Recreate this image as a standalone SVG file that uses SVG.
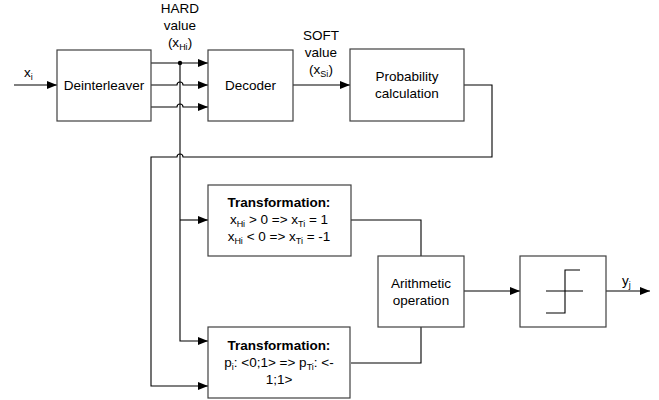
<svg xmlns="http://www.w3.org/2000/svg" width="659" height="400" viewBox="0 0 659 400">
<defs>
<marker id="ah" markerWidth="10" markerHeight="8" refX="10" refY="4" orient="auto" markerUnits="userSpaceOnUse"><path d="M0,0 L10,4 L0,8 z" fill="#000"/></marker>
<style>
.box{fill:#fff;stroke:#404040;stroke-width:1.2}
.ln{fill:none;stroke:#000;stroke-width:1.1}
text{font-family:"Liberation Sans",Arial,sans-serif;font-size:13.5px;fill:#000}
.c{text-anchor:middle}
.b{font-weight:bold}
.s{font-size:9px}
</style>
</defs>
<rect width="659" height="400" fill="#fff"/>
<g id="connectors">
<path class="ln" d="M14,85 H57" marker-end="url(#ah)"/>
<path class="ln" d="M151,63 H208" marker-end="url(#ah)"/>
<path class="ln" d="M151,85 H177 a3,3 0 0 1 6,0 H208" marker-end="url(#ah)"/>
<path class="ln" d="M151,107 H177 a3,3 0 0 1 6,0 H208" marker-end="url(#ah)"/>
<circle cx="180" cy="63" r="2.2" fill="#000"/>
<path class="ln" d="M180,63 V341 H208" marker-end="url(#ah)"/>
<path class="ln" d="M180,220 H208" marker-end="url(#ah)"/>
<path class="ln" d="M293,85 H350" marker-end="url(#ah)"/>
<path class="ln" d="M464,85 H492 V157 H183 a3,3 0 0 0 -6,0 H151 V386 H208" marker-end="url(#ah)"/>
<path class="ln" d="M351,220 H421 V256"/>
<path class="ln" d="M421,327 V363 H351"/>
<path class="ln" d="M464,291 H520" marker-end="url(#ah)"/>
<path class="ln" d="M606,291 H650" marker-end="url(#ah)"/>
</g>
<g id="labels">
<text x="24" y="77">x<tspan class="s" dy="3">i</tspan></text>
<text class="c" x="180" y="13">HARD</text>
<text class="c" x="180" y="30">value</text>
<text class="c" x="180" y="47">(x<tspan class="s" dy="3">Hi</tspan><tspan dy="-3">)</tspan></text>
<text class="c" x="321" y="40">SOFT</text>
<text class="c" x="321" y="57">value</text>
<text class="c" x="321" y="74">(x<tspan class="s" dy="3">Si</tspan><tspan dy="-3">)</tspan></text>
<text x="622" y="285">y<tspan class="s" dy="3">j</tspan></text>
</g>
<g id="deinterleaver"><rect class="box" x="57" y="50" width="94" height="71"/><text class="c" x="104" y="90">Deinterleaver</text></g>
<g id="decoder"><rect class="box" x="208" y="50" width="85" height="71"/><text class="c" x="250.5" y="90">Decoder</text></g>
<g id="probability"><rect class="box" x="350" y="49" width="114" height="72"/><text class="c" x="407" y="81">Probability</text><text class="c" x="407" y="98">calculation</text></g>
<g id="transformation1"><rect class="box" x="208" y="185" width="143" height="71"/>
<text class="c b" x="279" y="207">Transformation:</text>
<text class="c" x="279" y="224">x<tspan class="s" dy="3">Hi</tspan><tspan dy="-3"> &gt; 0 =&gt; x</tspan><tspan class="s" dy="3">Ti</tspan><tspan dy="-3"> = 1</tspan></text>
<text class="c" x="279" y="241">x<tspan class="s" dy="3">Hi</tspan><tspan dy="-3"> &lt; 0 =&gt; x</tspan><tspan class="s" dy="3">Ti</tspan><tspan dy="-3"> = -1</tspan></text>
</g>
<g id="transformation2"><rect class="box" x="208" y="327" width="142" height="71"/>
<text class="c b" x="279" y="350">Transformation:</text>
<text class="c" x="279" y="367">p<tspan class="s" dy="3">i</tspan><tspan dy="-3">: &lt;0;1&gt; =&gt; p</tspan><tspan class="s" dy="3">Ti</tspan><tspan dy="-3">: &lt;-</tspan></text>
<text class="c" x="279" y="384">1;1&gt;</text>
</g>
<g id="arithmetic"><rect class="box" x="378" y="256" width="86" height="71"/><text class="c" x="421" y="288">Arithmetic</text><text class="c" x="421" y="305">operation</text></g>
<g id="limiter"><rect class="box" x="520" y="256" width="86" height="71"/>
<path class="ln" d="M546,291 H583 M546,313 H565 V270 H580"/></g>
</svg>
